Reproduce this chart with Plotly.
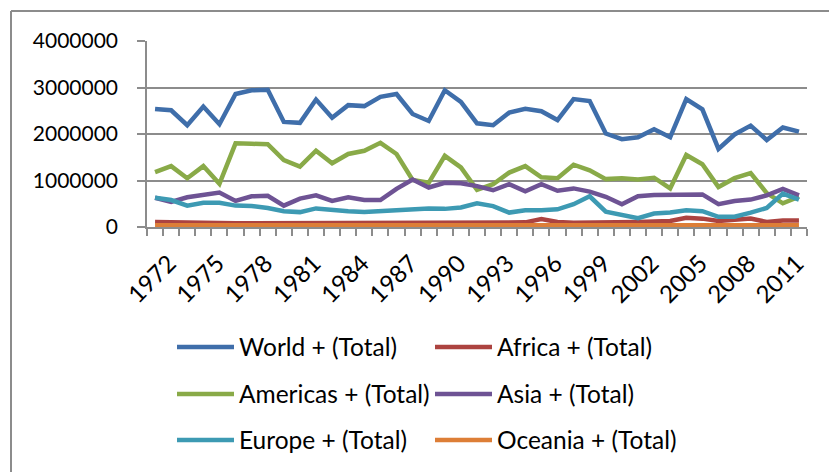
import plotly.graph_objects as go

years = list(range(1972, 2013))

world = [2540000, 2510000, 2190000, 2590000, 2210000, 2860000, 2940000, 2950000, 2260000, 2240000,
         2740000, 2350000, 2620000, 2600000, 2800000, 2860000, 2430000, 2280000, 2940000, 2690000,
         2230000, 2190000, 2460000, 2540000, 2490000, 2300000, 2750000, 2710000, 2010000, 1890000,
         1930000, 2100000, 1930000, 2750000, 2530000, 1680000, 1990000, 2180000, 1870000, 2140000,
         2050000]
africa = [110000, 100000, 90000, 90000, 80000, 80000, 80000, 80000, 80000, 80000,
          80000, 80000, 80000, 80000, 80000, 80000, 80000, 80000, 90000, 90000,
          80000, 90000, 90000, 100000, 170000, 110000, 90000, 90000, 90000, 100000,
          110000, 120000, 130000, 200000, 180000, 130000, 160000, 180000, 110000, 140000,
          140000]
americas = [1180000, 1310000, 1050000, 1310000, 930000, 1800000, 1790000, 1780000, 1440000, 1300000,
            1640000, 1370000, 1570000, 1640000, 1810000, 1570000, 1010000, 950000, 1530000, 1280000,
            800000, 920000, 1170000, 1310000, 1070000, 1050000, 1340000, 1220000, 1030000, 1050000,
            1020000, 1060000, 830000, 1550000, 1350000, 860000, 1050000, 1160000, 730000, 510000,
            650000]
asia = [630000, 540000, 640000, 700000, 740000, 560000, 660000, 670000, 460000, 610000,
        680000, 560000, 640000, 580000, 580000, 820000, 1020000, 850000, 950000, 940000,
        880000, 790000, 920000, 770000, 920000, 780000, 830000, 760000, 650000, 490000,
        660000, 690000, 700000, 700000, 700000, 490000, 560000, 590000, 680000, 820000,
        680000]
europe = [630000, 580000, 460000, 520000, 520000, 460000, 450000, 410000, 340000, 320000,
          400000, 360000, 340000, 320000, 340000, 380000, 390000, 400000, 390000, 420000,
          510000, 450000, 310000, 360000, 360000, 380000, 490000, 660000, 330000, 250000,
          190000, 290000, 310000, 360000, 340000, 220000, 220000, 310000, 410000, 720000,
          590000]
oceania = [40000, 40000, 40000, 40000, 40000, 40000, 40000, 40000, 40000, 40000,
           40000, 40000, 40000, 40000, 40000, 40000, 40000, 40000, 40000, 40000,
           40000, 40000, 40000, 40000, 40000, 40000, 40000, 40000, 40000, 40000,
           40000, 40000, 40000, 40000, 40000, 40000, 40000, 40000, 40000, 40000,
           40000]

names = ["World + (Total)", "Africa + (Total)", "Americas + (Total)",
         "Asia + (Total)", "Europe + (Total)", "Oceania + (Total)"]
colors = ["#3F6EAA", "#AC4340", "#89AA48", "#6E5394", "#3D9AB3", "#DD7E37"]
series = [world, africa, americas, asia, europe, oceania]
legends = ["legend", "legend", "legend2", "legend2", "legend3", "legend3"]

label_years = list(range(1972, 2012, 3))

FONT = "Lato"
W, H = 837, 472
# page body adds an 8px offset; positions below are in figure coordinates
L, R, T, B = 139, 38, 33, 253
pw, ph = W - L - R, H - T - B

fig = go.Figure()
for nm, col, vals, lg in zip(names, colors, series, legends):
    fig.add_trace(go.Scatter(x=years, y=vals, name=nm, mode="lines",
                             line=dict(color=col, width=4.5), legend=lg))

def px2paper_x(px):
    return (px - L) / pw

def py2paper_y(py):
    return (H - B - py) / ph

grid = "#8C8C8C"
fig.update_layout(
    width=W, height=H,
    margin=dict(l=L, r=R, t=T, b=B, pad=0, autoexpand=False),
    paper_bgcolor="white", plot_bgcolor="white",
    font=dict(family=FONT, size=21, color="black"),
    xaxis=dict(
        range=[1971.5, 2012.5], tickmode="array", tickvals=label_years,
        ticktext=[str(y) for y in label_years], tickangle=-45,
        ticks="outside", ticklen=7, tickcolor="rgba(0,0,0,0)", tickwidth=1.5,
        showgrid=False, zeroline=False,
        showline=True, linecolor=grid, linewidth=1.5,
        tickfont=dict(size=24), ticklabelstandoff=4, ticklabelshift=14,
        minor=dict(tickmode="linear", tick0=1971.5, dtick=1,
                   ticks="outside", ticklen=7, tickcolor=grid, tickwidth=1.5, showgrid=False),
    ),
    yaxis=dict(
        range=[0, 4000000], dtick=1000000, tickformat="d",
        showgrid=True, gridcolor=grid, gridwidth=1.5, zeroline=False,
        showline=True, linecolor=grid, linewidth=1.5,
        ticks="outside", ticklen=8, tickcolor=grid, tickwidth=1.5,
        ticklabelstandoff=15, tickfont=dict(size=21),
    ),
    showlegend=True,
)

leg_common = dict(orientation="h", xref="container", yref="container",
                  xanchor="left", yanchor="middle", entrywidth=186, entrywidthmode="pixels",
                  itemwidth=57, bgcolor="rgba(0,0,0,0)", font=dict(family=FONT, size=24.5),
                  tracegroupgap=0, itemclick=False)
fig.update_layout(
    legend=dict(x=164 / W, y=1 - 339 / H, **leg_common),
    legend2=dict(x=164 / W, y=1 - 386 / H, **leg_common),
    legend3=dict(x=164 / W, y=1 - 432 / H, **leg_common),
)

# outer chart border (top and left edges visible in the crop)
fig.add_shape(type="line", xref="paper", yref="paper",
              x0=px2paper_x(3), x1=px2paper_x(845), y0=py2paper_y(3), y1=py2paper_y(3),
              line=dict(color=grid, width=2), layer="below")
fig.add_shape(type="line", xref="paper", yref="paper",
              x0=px2paper_x(3), x1=px2paper_x(3), y0=py2paper_y(3), y1=py2paper_y(480),
              line=dict(color=grid, width=2), layer="below")

fig.write_html("out.html")
